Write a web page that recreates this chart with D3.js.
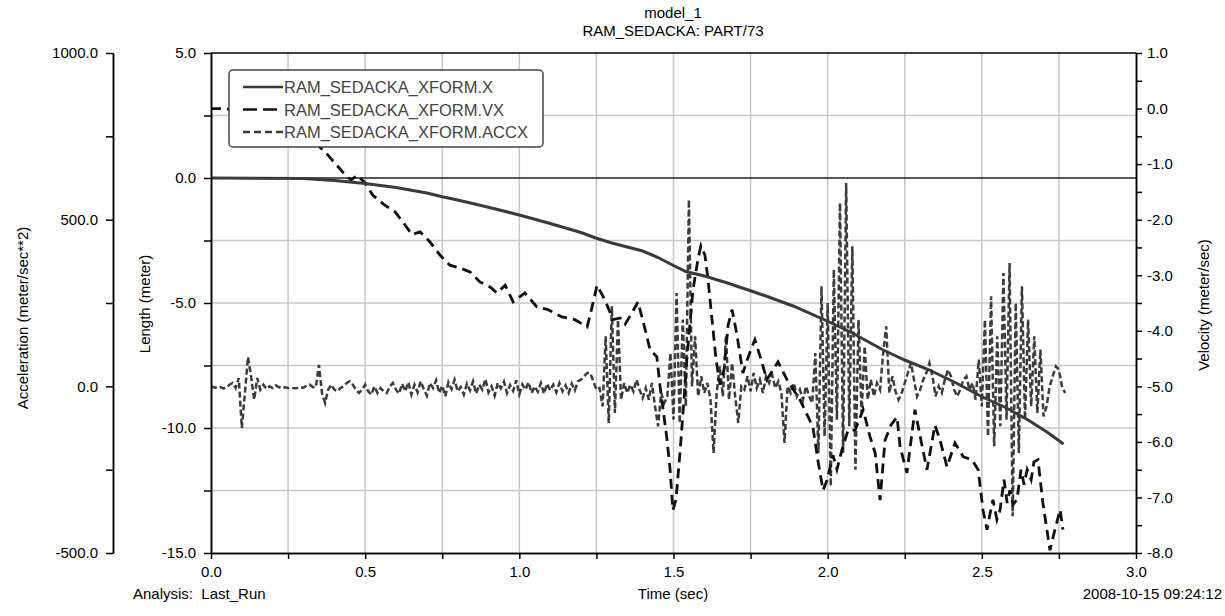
<!DOCTYPE html>
<html>
<head>
<meta charset="utf-8">
<script src="https://cdn.jsdelivr.net/npm/d3@7/dist/d3.min.js"></script>
<style>
    body { margin: 0; background: #fff; }
    text { font-family: "Liberation Sans", Arial, sans-serif; fill: #000; }
</style>
</head>
<body>
<svg id="svg"></svg>
<script>
var larghezza = 1225;
var altezza = 616;

// plot box (window.top is reserved, so no plain "top")
var plotLeft = 211, plotRight = 1136, plotTop = 53, plotBottom = 553;

// RAM_SEDACKA_XFORM.X  (Length, meter)
var lenTime = [0, 0.3, 0.4, 0.5, 0.6, 0.7, 0.75, 0.8, 0.9, 1.0, 1.1, 1.2, 1.25, 1.3, 1.4, 1.45, 1.5, 1.54, 1.6, 1.67,
    1.74, 1.8, 1.89, 2.0, 2.08, 2.18, 2.25, 2.33, 2.42, 2.5, 2.58, 2.65, 2.71, 2.765];
var lenValues = [0, -0.02, -0.1, -0.22, -0.38, -0.6, -0.75, -0.88, -1.17, -1.48, -1.82, -2.18, -2.41, -2.6, -2.92, -3.18, -3.5, -3.74, -3.92, -4.18,
    -4.47, -4.72, -5.13, -5.73, -6.2, -6.88, -7.28, -7.68, -8.22, -8.75, -9.2, -9.68, -10.15, -10.64];

// RAM_SEDACKA_XFORM.VX  (Velocity, meter/sec)
var velTime = [0, 0.045, 0.16, 0.26, 0.32, 0.37, 0.43, 0.454, 0.474, 0.5, 0.525, 0.564, 0.597, 0.63, 0.652, 0.678, 0.71, 0.743, 0.775, 0.808,
    0.84, 0.872, 0.905, 0.928, 0.954, 0.98, 1.018, 1.057, 1.093, 1.138, 1.18, 1.22, 1.236, 1.252, 1.278, 1.304, 1.327, 1.343, 1.365, 1.385,
    1.408, 1.424, 1.446, 1.456, 1.479, 1.489, 1.498, 1.508, 1.521, 1.534, 1.544, 1.563, 1.58, 1.589, 1.602, 1.612, 1.625, 1.638, 1.651, 1.664,
    1.677, 1.69, 1.706, 1.725, 1.745, 1.764, 1.784, 1.803, 1.823, 1.839, 1.868, 1.91, 1.952, 1.968, 1.985, 1.998, 2.017, 2.03, 2.046, 2.066,
    2.089, 2.115, 2.137, 2.154, 2.17, 2.186, 2.205, 2.225, 2.235, 2.257, 2.283, 2.3, 2.322, 2.348, 2.364, 2.387, 2.413, 2.44, 2.468, 2.488,
    2.504, 2.517, 2.526, 2.536, 2.549, 2.559, 2.572, 2.582, 2.591, 2.601, 2.614, 2.627, 2.637, 2.647, 2.66, 2.669, 2.682, 2.698, 2.711, 2.721,
    2.737, 2.754, 2.763];
var velValues = [0, 0, -0.12, -0.3, -0.53, -0.78, -1.16, -1.29, -1.2, -1.34, -1.56, -1.74, -1.86, -2.1, -2.27, -2.22, -2.4, -2.64, -2.82, -2.87,
    -2.94, -3.12, -3.21, -3.32, -3.18, -3.48, -3.32, -3.57, -3.62, -3.75, -3.8, -3.93, -3.57, -3.18, -3.45, -3.8, -3.77, -3.88, -3.68, -3.48,
    -3.98, -4.34, -4.47, -4.98, -5.96, -6.5, -7.23, -7.04, -6.2, -5.24, -4.47, -3.27, -2.69, -2.47, -2.64, -3.08, -3.8, -4.52, -4.97, -4.7,
    -3.9, -3.62, -4.08, -4.76, -4.43, -4.16, -4.52, -4.88, -4.7, -4.56, -4.88, -5.24, -5.73, -6.32, -6.87, -6.69, -6.24, -6.5, -6.15, -5.79,
    -5.79, -5.42, -5.9, -6.2, -7.05, -5.97, -5.7, -5.55, -6.09, -6.56, -5.42, -5.9, -6.5, -5.7, -5.96, -6.45, -6.02, -6.27, -6.32, -6.5,
    -7.23, -7.58, -7.31, -7.04, -7.4, -7.23, -6.68, -7.1, -6.87, -7.13, -7.04, -6.5, -6.77, -6.5, -6.68, -6.36, -6.32, -7.1, -7.58, -7.95,
    -7.58, -7.22, -7.58];

// RAM_SEDACKA_XFORM.ACCX  (Acceleration, meter/sec**2), sampled every accStep seconds
var accStep = 0.01;
var accValues = [
    0, -3, -5, -2, -6, -4, 5, 10, -5, 25,
    -125, -20, 88, 30, -40, 25, -10, 5, -8, 0,
    -5, 3, -2, -6, -3, -5, -4, -6, -5, -3,
    -4, 2, 5, -2, -3, 64, -20, -50, -10, 5,
    -10, -15, -5, 0, 10, 15, 5, -10, -20, -10,
    5, -15, -25, 0, -20, -5, -15, -20, 0, 10,
    -10, -22, 8, -15, 12, -25, 5, -18, 15, -8,
    -28, 10, -5, 18, -20, 2, -30, 12, -8, 20,
    -15, -2, -25, 8, -12, 15, -22, 5, -10, 22,
    -18, 0, -28, 10, -6, 14, -20, 4, -14, 18,
    -24, 6, -10, 12, -20, 0, -16, 10, -22, 8,
    -12, 5, -18, 10, -15, 3, -20, 8, -12, 15,
    20, 30, 40, 40, 15, -10, -5, -60, 150, -110,
    240, -80, 200, -40, 10, -20, 5, -15, 20, -10,
    -35, -5, -40, 10, -60, -120, -20, -50, -30, 100,
    -100, 280, -110, 200, -60, 560, 0, 150, -30, 30,
    -20, 10, -40, -200, -20, 60, -30, 150, -40, 70,
    -30, -110, 0, -10, 30, -15, 40, -5, 20, -20,
    30, 10, 35, -5, 15, -20, -170, 0, -20, 10,
    -30, -10, -40, 0, -30, -50, 100, -200, 300, -150,
    250, -300, 350, -100, 550, -200, 610, -120, 420, -250,
    200, -80, 120, -40, 20, -30, 10, -10, 100, 180,
    -20, 30, -15, -40, -20, 10, 40, 70, 20, -30,
    -10, 20, 40, 70, 30, -30, 0, -20, 20, 50,
    30, -10, -30, -10, 20, 30, -10, 10, -40, 80,
    -60, 200, -150, 270, -180, 150, -120, 340, -100, 370,
    -390, 250, -200, 300, -100, 200, -60, 150, -80, 110,
    -90, -60, 0, 30, 60, 50, 0, -20];

// axis ticks
var timeTicks = [0, 0.5, 1.0, 1.5, 2.0, 2.5, 3.0];
var timeMinor = [0.25, 0.75, 1.25, 1.75, 2.25, 2.75];
var lenTicks = [-15, -10, -5, 0, 5];
var lenMinor = [-12.5, -7.5, -2.5, 2.5];
var accTicks = [-500, 0, 500, 1000];
var accMinor = [-250, 250, 750];
var velTicks = [1, 0, -1, -2, -3, -4, -5, -6, -7, -8];
var velMinor = [0.5, -0.5, -1.5, -2.5, -3.5, -4.5, -5.5, -6.5, -7.5];

var legendNames = ["RAM_SEDACKA_XFORM.X", "RAM_SEDACKA_XFORM.VX", "RAM_SEDACKA_XFORM.ACCX"];

var x = d3.scaleLinear().domain([0, 3]).range([plotLeft, plotRight]);
var yLen = d3.scaleLinear().domain([-15, 5]).range([plotBottom, plotTop]);
var yAcc = d3.scaleLinear().domain([-500, 1000]).range([plotBottom, plotTop]);
var yVel = d3.scaleLinear().domain([-8, 1]).range([plotBottom, plotTop]);

function fmt(d) { return d.toFixed(1); }

function draw() {
    var svg = d3.select("#svg");
    svg.attr("width", larghezza).attr("height", altezza);

    drawGrid(svg);
    drawCurves(svg);
    drawAxes(svg);
    drawLegend(svg);
    drawTexts(svg);
}

function drawGrid(svg) {
    timeMinor.concat([0.5, 1.0, 1.5, 2.0, 2.5]).forEach(function (t) {
        svg.append("line")
            .attr("x1", x(t)).attr("x2", x(t))
            .attr("y1", plotTop).attr("y2", plotBottom)
            .style("stroke", "#c8c8c8").style("stroke-width", "1.5px");
    });
    [-12.5, -10, -7.5, -5, -2.5, 2.5].forEach(function (v) {
        svg.append("line")
            .attr("x1", plotLeft).attr("x2", plotRight)
            .attr("y1", yLen(v)).attr("y2", yLen(v))
            .style("stroke", "#c8c8c8").style("stroke-width", "1.5px");
    });
    // zero line of the length axis
    svg.append("line")
        .attr("x1", plotLeft).attr("x2", plotRight)
        .attr("y1", yLen(0)).attr("y2", yLen(0))
        .style("stroke", "#222").style("stroke-width", "1.5px");
}

function drawCurves(svg) {
    var accLine = d3.line()
        .x(function (d, i) { return x(i * accStep); })
        .y(function (d) { return yAcc(d); });
    svg.append("path")
        .attr("d", accLine(accValues))
        .style("fill", "none")
        .style("stroke", "#3c3c3c")
        .style("stroke-width", "2.5px")
        .style("stroke-dasharray", "6,3");

    var velLine = d3.line()
        .x(function (d, i) { return x(velTime[i]); })
        .y(function (d) { return yVel(d); });
    svg.append("path")
        .attr("d", velLine(velValues))
        .style("fill", "none")
        .style("stroke", "#111")
        .style("stroke-width", "2.8px")
        .style("stroke-dasharray", "10,6");

    var lenLine = d3.line()
        .x(function (d, i) { return x(lenTime[i]); })
        .y(function (d) { return yLen(d); });
    svg.append("path")
        .attr("d", lenLine(lenValues))
        .style("fill", "none")
        .style("stroke", "#3a3a3a")
        .style("stroke-width", "3px");
}

function styleAxis(g) {
    g.selectAll(".domain").style("stroke", "#000").style("stroke-width", "1.5px");
    g.selectAll(".tick line").style("stroke", "#000").style("stroke-width", "1.5px");
    g.selectAll("text").style("font-size", "15px").style("font-family", "'Liberation Sans', Arial, sans-serif");
}

function drawAxes(svg) {
    // top frame
    svg.append("line")
        .attr("x1", plotLeft).attr("x2", plotRight).attr("y1", plotTop).attr("y2", plotTop)
        .style("stroke", "#000").style("stroke-width", "1.5px");

    var gx = svg.append("g").attr("transform", "translate(0," + plotBottom + ")")
        .call(d3.axisBottom(x).tickValues(timeTicks).tickFormat(fmt).tickSize(6).tickSizeOuter(0).tickPadding(7));
    svg.append("g").attr("transform", "translate(0," + plotBottom + ")")
        .call(d3.axisBottom(x).tickValues(timeMinor).tickFormat("").tickSize(6).tickSizeOuter(0)).call(styleAxis);
    styleAxis(gx);

    var gl = svg.append("g").attr("transform", "translate(" + plotLeft + ",0)")
        .call(d3.axisLeft(yLen).tickValues(lenTicks).tickFormat(fmt).tickSize(7).tickSizeOuter(0).tickPadding(8));
    svg.append("g").attr("transform", "translate(" + plotLeft + ",0)")
        .call(d3.axisLeft(yLen).tickValues(lenMinor).tickFormat("").tickSize(7).tickSizeOuter(0)).call(styleAxis);
    styleAxis(gl);

    var ga = svg.append("g").attr("transform", "translate(113,0)")
        .call(d3.axisLeft(yAcc).tickValues(accTicks).tickFormat(fmt).tickSize(7).tickSizeOuter(0).tickPadding(8));
    svg.append("g").attr("transform", "translate(113,0)")
        .call(d3.axisLeft(yAcc).tickValues(accMinor).tickFormat("").tickSize(7).tickSizeOuter(0)).call(styleAxis);
    styleAxis(ga);

    var gr = svg.append("g").attr("transform", "translate(" + plotRight + ",0)")
        .call(d3.axisRight(yVel).tickValues(velTicks).tickFormat(fmt).tickSize(6).tickSizeOuter(0).tickPadding(5));
    svg.append("g").attr("transform", "translate(" + plotRight + ",0)")
        .call(d3.axisRight(yVel).tickValues(velMinor).tickFormat("").tickSize(6).tickSizeOuter(0)).call(styleAxis);
    styleAxis(gr);
}

function drawLegend(svg) {
    svg.append("rect")
        .attr("x", 229).attr("y", 70)
        .attr("width", 314).attr("height", 77)
        .attr("rx", 4).attr("ry", 4)
        .style("fill", "#fff")
        .style("stroke", "#444")
        .style("stroke-width", "1.5px");

    var dashes = ["none", "14,6", "7,4"];
    var colors = ["#3a3a3a", "#111", "#3c3c3c"];
    legendNames.forEach(function (name, i) {
        var yy = 87 + i * 22.5;
        svg.append("line")
            .attr("x1", 243).attr("x2", 283)
            .attr("y1", yy).attr("y2", yy)
            .style("stroke", colors[i])
            .style("stroke-width", "2.5px")
            .style("stroke-dasharray", dashes[i]);
        svg.append("text")
            .attr("x", 284).attr("y", yy + 6)
            .style("font-size", "16.5px")
            .style("fill", "#444")
            .text(name);
    });
}

function drawTexts(svg) {
    svg.append("text").attr("x", 673).attr("y", 18).attr("text-anchor", "middle")
        .style("font-size", "15px").text("model_1");
    svg.append("text").attr("x", 673).attr("y", 36).attr("text-anchor", "middle")
        .style("font-size", "15px").text("RAM_SEDACKA: PART/73");

    svg.append("text").attr("transform", "translate(28,318) rotate(-90)").attr("text-anchor", "middle")
        .style("font-size", "15px").text("Acceleration (meter/sec**2)");
    svg.append("text").attr("transform", "translate(150,304) rotate(-90)").attr("text-anchor", "middle")
        .style("font-size", "15px").text("Length (meter)");
    svg.append("text").attr("transform", "translate(1209,305) rotate(-90)").attr("text-anchor", "middle")
        .style("font-size", "15px").text("Velocity (meter/sec)");

    svg.append("text").attr("x", 133).attr("y", 599)
        .style("font-size", "15px").text("Analysis:  Last_Run").attr("xml:space", "preserve");
    svg.append("text").attr("x", 673).attr("y", 599).attr("text-anchor", "middle")
        .style("font-size", "15px").text("Time (sec)");
    svg.append("text").attr("x", 1222).attr("y", 599).attr("text-anchor", "end")
        .style("font-size", "15px").text("2008-10-15 09:24:12");
}

draw();
</script>
</body>
</html>
